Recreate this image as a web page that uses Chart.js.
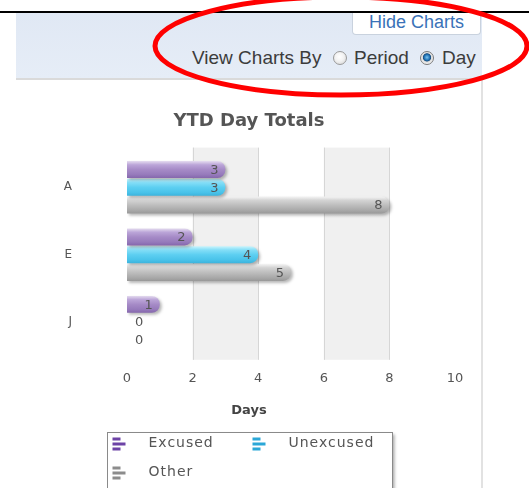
<!DOCTYPE html>
<html>
<head>
<meta charset="utf-8">
<script src="https://cdn.jsdelivr.net/npm/chart.js@4.4.1/dist/chart.umd.min.js"></script>
<style>
  html, body { margin: 0; padding: 0; background: #fff; }
  body { width: 529px; height: 488px; position: relative; overflow: hidden; font-family: "Liberation Sans", Arial, sans-serif; }
  #topline { position: absolute; left: 0; top: 11px; width: 529px; height: 2px; background: #000; }
  #panel { position: absolute; left: 16px; top: 13px; width: 466px; height: 65px;
           background: linear-gradient(#e0e8f4, #e6edf7); border-bottom: 2px solid #dadada; }
  #sideline { position: absolute; left: 481px; top: 80px; width: 2px; height: 408px; background: #e2e2e2; }
  #hide { position: absolute; left: 352px; top: 13px; width: 127px; height: 21px; background: #fff;
          border: 1px solid #c9d2de; border-top: none; border-radius: 0 0 4px 4px;
          color: #3a72b8; font-size: 18px; line-height: 19px; text-align: center; }
  .lbl { position: absolute; top: 47px; line-height: 22px; font-size: 19px; color: #3c3c3c; }
  .radio { position: absolute; top: 51px; width: 12px; height: 12px; border-radius: 50%;
           border: 1px solid #9a9a9a; background: radial-gradient(circle at 45% 40%, #fff 0, #f2f2f2 45%, #cfcfcf 100%); }
  .radio.on { background: radial-gradient(circle at 50% 45%, #7cc4f0 0, #1d6fb2 32%, #1a4f80 42%, #dcdcdc 50%, #fff 85%); border-color: #7a7a7a; }
  #wrap { position: absolute; left: 16px; top: 80px; width: 466px; height: 408px; }
  #ring { position: absolute; left: 0; top: 0; pointer-events: none; }
</style>
</head>
<body>
<div id="topline"></div>
<div id="panel"></div>
<div id="sideline"></div>
<div id="hide">Hide Charts</div>
<span class="lbl" style="left:192px">View Charts By</span>
<div class="radio" style="left:333px"></div>
<span class="lbl" style="left:354px">Period</span>
<div class="radio on" style="left:420px"></div>
<span class="lbl" style="left:442px">Day</span>
<div id="wrap"><canvas id="dayChart"></canvas></div>
<svg id="ring" width="529" height="488">
  <ellipse cx="341" cy="46" rx="186" ry="49" fill="none" stroke="#ff0000" stroke-width="5"/>
</svg>
<script>
// chart values
const categories = ['A', 'E', 'J'];
const excused = [3, 2, 1];
const unexcused = [3, 4, 0];
const other = [8, 5, 0];
const seriesNames = ['Excused', 'Unexcused', 'Other'];
const xMin = 0, xMax = 10, xStep = 2;

// colour shades, top to bottom of each bar
const purpleShades = ['#e4dbef', '#bba5d8', '#a68bc7', '#967abb', '#8567ad'];
const cyanShades = ['#c8f4fd', '#84def7', '#5dcff1', '#4ac3ea', '#3cb4dd'];
const greyShades = ['#f4f4f4', '#d3d3d3', '#bebebe', '#a9a9a9', '#999999'];
const legendColors = ['#6d43a6', '#2ba7d7', '#8c8c8c'];

const textGrey = '#555';

// draws shaded bands + grid lines behind the bars, and the bar gradients
const bandsAndShading = {
    id: 'bandsAndShading',
    beforeDatasetsDraw(chart) {
        const ctx = chart.ctx;
        const area = chart.chartArea;
        const x = chart.scales.x;
        const top = area.top - 6, bottom = area.bottom + 4;
        ctx.save();
        for (let v = xMin; v < xMax; v += xStep) {
            if ((v / xStep) % 2 === 1 && v + xStep < xMax) {
                ctx.fillStyle = '#f0f0f0';
                const a = x.getPixelForValue(v), b = x.getPixelForValue(v + xStep);
                ctx.fillRect(a, top, b - a, bottom - top);
            }
        }
        ctx.strokeStyle = '#d6d6d6';
        ctx.lineWidth = 1;
        for (let v = xMin + xStep; v < xMax; v += xStep) {
            const p = Math.round(x.getPixelForValue(v)) + 0.5;
            ctx.beginPath();
            ctx.moveTo(p, top);
            ctx.lineTo(p, bottom);
            ctx.stroke();
        }
        ctx.restore();

        chart.data.datasets.forEach((ds, i) => {
            chart.getDatasetMeta(i).data.forEach(bar => {
                const t = bar.y - bar.height / 2, b = bar.y + bar.height / 2;
                const g = ctx.createLinearGradient(0, t, 0, b);
                const stops = [0, 0.22, 0.5, 0.8, 1];
                ds.shades.forEach((c, k) => g.addColorStop(stops[k], c));
                bar.options = Object.assign({}, bar.options, { backgroundColor: g });
            });
        });
        ctx.save();
        ctx.shadowColor = 'rgba(0,0,0,0.28)';
        ctx.shadowBlur = 3;
        ctx.shadowOffsetX = 2;
        ctx.shadowOffsetY = 2;
    },
    afterDatasetsDraw(chart) {
        const ctx = chart.ctx;
        ctx.restore();
        // value labels
        ctx.save();
        ctx.font = '13px "DejaVu Sans"';
        ctx.fillStyle = textGrey;
        ctx.textBaseline = 'middle';
        chart.data.datasets.forEach((ds, i) => {
            chart.getDatasetMeta(i).data.forEach((bar, j) => {
                const v = ds.data[j];
                if (v > 0) {
                    ctx.textAlign = 'right';
                    ctx.fillText(String(v), bar.x - 7, bar.y + 1);
                } else {
                    ctx.textAlign = 'left';
                    ctx.fillText(String(v), bar.base + 8, bar.y + 1);
                }
            });
        });
        ctx.restore();
    },
    afterDraw(chart) {
        // boxed legend at the bottom
        const ctx = chart.ctx;
        const w = 285;
        const left = Math.round((chart.width - w) / 2) + 0.5;
        const top = chart.height - 56 + 0.5;
        ctx.save();
        ctx.shadowColor = 'rgba(0,0,0,0.35)';
        ctx.shadowBlur = 3;
        ctx.shadowOffsetX = 2;
        ctx.shadowOffsetY = 1;
        ctx.fillStyle = '#fff';
        ctx.fillRect(left, top, w, 80);
        ctx.shadowColor = 'transparent';
        ctx.strokeStyle = '#8a8a8a';
        ctx.lineWidth = 1;
        ctx.strokeRect(left, top, w, 80);
        ctx.font = '14px "DejaVu Sans"';
        ctx.letterSpacing = '1px';
        ctx.textBaseline = 'middle';
        ctx.textAlign = 'left';
        chart.data.datasets.forEach((ds, i) => {
            const col = i % 2, row = Math.floor(i / 2);
            const ix = left + 5 + col * 140;
            const iy = top + 11 + row * 29;
            ctx.fillStyle = legendColors[i];
            ctx.fillRect(ix, iy - 6, 8, 3);
            ctx.fillRect(ix, iy - 1, 13, 3);
            ctx.fillRect(ix, iy + 4, 8, 3);
            ctx.fillStyle = textGrey;
            ctx.fillText(ds.label, ix + 36, iy);
        });
        ctx.restore();
    }
};

const ctx = document.getElementById('dayChart').getContext('2d');
const dayChart = new Chart(ctx, {
    type: 'bar',
    data: {
        labels: categories,
        datasets: [
            { label: seriesNames[0], data: excused, shades: purpleShades, backgroundColor: purpleShades[2] },
            { label: seriesNames[1], data: unexcused, shades: cyanShades, backgroundColor: cyanShades[2] },
            { label: seriesNames[2], data: other, shades: greyShades, backgroundColor: greyShades[2] }
        ]
    },
    options: {
        indexAxis: 'y',
        responsive: true,
        maintainAspectRatio: false,
        animation: false,
        borderRadius: { topRight: 8, bottomRight: 8 },
        borderSkipped: 'start',
        categoryPercentage: 0.79,
        barPercentage: 0.95,
        layout: { padding: { left: 27, right: 27, top: 0, bottom: 70 } },
        plugins: {
            legend: { display: false },
            tooltip: { enabled: false },
            title: {
                display: true,
                text: 'YTD Day Totals',
                color: textGrey,
                font: { family: 'DejaVu Sans', size: 18, weight: 'bold' },
                padding: { top: 31, bottom: 21 }
            },
            subtitle: {
                display: true,
                position: 'bottom',
                text: 'Days',
                color: '#444',
                font: { family: 'DejaVu Sans', size: 13, weight: 'bold' },
                padding: { top: 1, bottom: 0 }
            }
        },
        scales: {
            x: {
                min: xMin,
                max: xMax,
                grid: { display: false, drawTicks: false },
                border: { display: false },
                ticks: {
                    stepSize: xStep,
                    padding: 15,
                    color: textGrey,
                    font: { family: 'DejaVu Sans', size: 13 }
                }
            },
            y: {
                grid: { display: false, drawTicks: false },
                border: { display: false },
                afterFit(scale) { scale.width = 84; },
                ticks: {
                    padding: 55,
                    color: textGrey,
                    font: { family: 'DejaVu Sans', size: 12 }
                }
            }
        }
    },
    plugins: [bandsAndShading]
});
</script>
</body>
</html>
